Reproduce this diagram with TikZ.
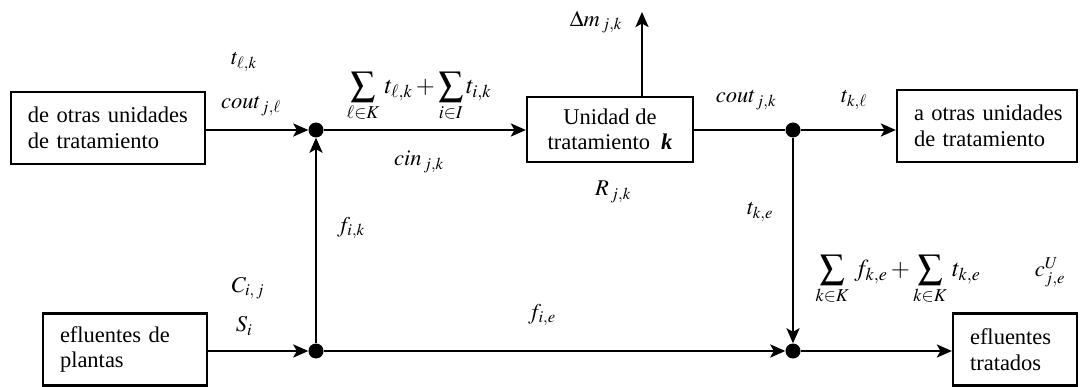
\documentclass[tikz,border=0pt]{standalone}
\usepackage{mathptmx}
\usepackage[no-math]{fontspec}
\setmainfont{Liberation Serif}
\usetikzlibrary{arrows.meta}
\newcommand{\fsz}{\fontsize{22.5}{25.5}\selectfont}
\newcommand{\fsum}{\fontsize{24.5}{27}\selectfont}
\newcommand{\indl}{\hspace*{17pt}}
\tikzset{
  box/.style={draw, line width=2.2pt, inner xsep=0pt, inner ysep=0pt, align=left, font=\fsz},
  unitbox/.style={draw, line width=2.2pt, inner sep=0pt, align=center, font=\fsz},
  junc/.style={circle, fill=black, minimum size=15pt, inner sep=0pt},
  conn/.style={line width=2.6pt},
  arr/.style={line width=2.6pt, -{Stealth[length=15pt,width=13pt,inset=3.5pt]}},
  lbl/.style={inner sep=0pt, font=\fsz},
  sumlbl/.style={inner sep=0pt, font=\fsum}
}
\begin{document}
\begin{tikzpicture}[x=1pt,y=-1pt]
\useasboundingbox (0,0) rectangle (1081,387);
% boxes
\node[box, minimum height=72pt, text width=194pt] (b1) at (108,128) {\indl de otras unidades\\\indl de tratamiento};
\node[box, minimum height=72pt, text width=180pt] (b3) at (987,126) {\indl a otras unidades\\\indl de tratamiento};
\node[box, minimum height=72pt, text width=164pt] (b2) at (125,349.5) {\indl efluentes de\\\indl plantas};
\node[box, minimum height=72pt, text width=124pt] (b4) at (1015,349.5) {\indl efluentes\\\indl tratados};
\node[unitbox, minimum width=166pt, minimum height=65pt] (unit) at (610,129.5) {Unidad de\\tratamiento\ \ \textbf{\textit{k}}};
% junctions
\node[junc] (j1) at (316,130) {};
\node[junc] (j2) at (316,351) {};
\node[junc] (j3) at (793,130) {};
\node[junc] (j4) at (793,351) {};
\coordinate (up) at (642,12);
% connectors
\draw[arr] (b1.east |- j1) -- (j1);
\draw[arr] (j2) -- (j1);
\draw[arr] (j1) -- (unit.west |- j1);
\draw[arr] (unit.north -| up) -- (up);
\draw[conn] (unit.east |- j3) -- (j3);
\draw[arr] (j3) -- (b3.west |- j3);
\draw[arr] (j3) -- (j4);
\draw[arr] (b2.east |- j2) -- (j2);
\draw[arr] (j2) -- (j4);
\draw[arr] (j4) -- (b4.west |- j4);
% labels
\node[lbl] (l1) at (244,62) {$t_{\ell,k}$};
\node[lbl] (l2) at (251,106) {$cout_{\,j,\ell}$};
\node[sumlbl] (l3) at (419,97) {$\displaystyle\sum_{\ell\in K}\, t_{\ell,k} + \sum_{i\in I} t_{i,k}$};
\node[lbl] (l4) at (419,162) {$cin_{\,j,k}$};
\node[lbl] (l5) at (613,192) {$R_{\,j,k}$};
\node[lbl] (l6) at (351,228) {$f_{i,k}$};
\node[lbl] (l7) at (596,22) {$\Delta m_{\,j,k}$};
\node[lbl] (l8) at (746,100) {$cout_{\,j,k}$};
\node[lbl] (l9) at (854,100) {$t_{k,\ell}$};
\node[lbl] (l10) at (760,212) {$t_{k,e}$};
\node[sumlbl] (l11) at (898,280) {$\displaystyle\sum_{k\in K}\, f_{k,e} + \sum_{k\in K}\, t_{k,e}$};
\node[lbl] (l12) at (1050,272) {$c^{U}_{j,e}$};
\node[lbl] (l13) at (248,288) {$C_{i,\,j}$};
\node[lbl] (l14) at (244,326) {$S_i$};
\node[lbl] (l15) at (542,315) {$f_{i,e}$};
\end{tikzpicture}
\end{document}
